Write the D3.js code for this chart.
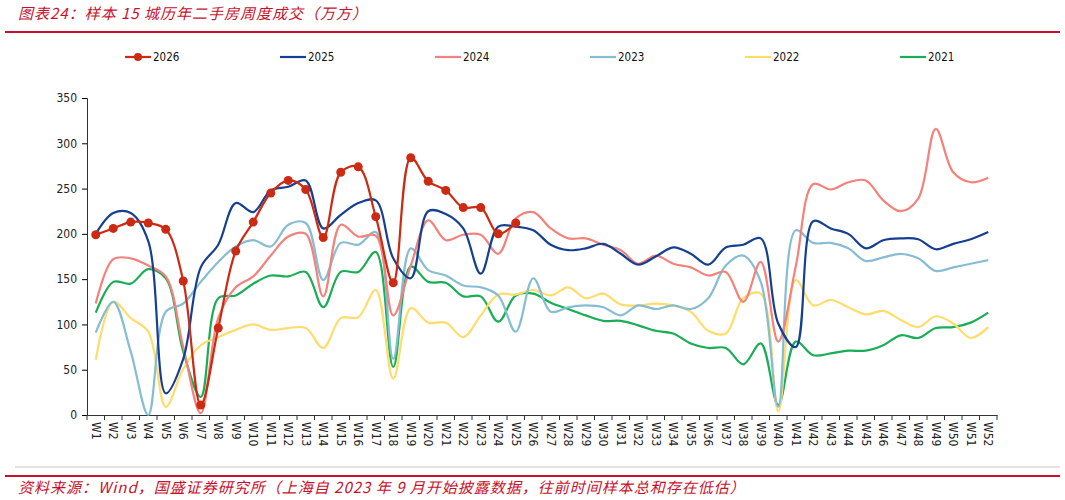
<!DOCTYPE html>
<html>
<head>
<meta charset="utf-8">
<script src="https://cdn.jsdelivr.net/npm/d3@7"></script>
<style>
  body { margin: 0; background: #fff; }
  svg { display: block; }
</style>
</head>
<body>
<div class="chart"></div>
<script>
const width = 1065;
const height = 500;

// weeks W1..W52
const weeks = d3.range(1, 53).map((i) => "W" + i);

const y2026 = [199, 206, 213, 212, 205, 148, 11, 96, 181, 213, 245, 259, 249, 196, 268, 274, 219, 146, 284, 258, 248, 229, 229, 200, 212];
const y2025 = [200, 223, 223, 192, 24, 62, 163, 188, 234, 224, 248, 252, 259, 206, 221, 234, 237, 173, 151, 225, 222, 206, 156, 208, 208,
  204, 188, 182, 184, 189, 178, 166, 175, 185, 178, 166, 185, 188, 195, 101, 75, 214, 206, 200, 184, 193, 195, 194, 183, 189, 194, 202];
const y2024 = [123, 172, 173, 165, 153, 75, 2, 107, 141, 153, 176, 197, 200, 131, 210, 197, 198, 110, 165, 215, 193, 199, 199, 178, 217,
  224, 206, 195, 195, 188, 182, 167, 176, 167, 163, 154, 158, 125, 169, 81, 164, 255, 249, 257, 259, 237, 225, 239, 316, 268, 257, 262];
const y2023 = [91, 125, 70, 0, 114, 123, 147, 169, 186, 193, 186, 210, 212, 149, 190, 188, 202, 62, 184, 160, 154, 143, 141, 132, 92,
  151, 114, 119, 121, 119, 110, 121, 117, 121, 117, 129, 165, 176, 147, 9, 204, 190, 190, 184, 170, 174, 178, 173, 159, 163, 167, 171];
const y2022 = [61, 125, 107, 92, 9, 51, 77, 86, 94, 100, 94, 96, 96, 74, 107, 108, 138, 40, 118, 102, 102, 86, 110, 133, 133,
  138, 132, 141, 129, 134, 122, 121, 123, 121, 114, 93, 90, 129, 134, 4, 149, 121, 127, 119, 111, 115, 105, 97, 109, 101, 85, 97];
const y2021 = [113, 147, 145, 161, 151, 70, 20, 129, 132, 145, 154, 153, 158, 119, 158, 158, 180, 53, 164, 147, 146, 131, 131, 103, 132,
  134, 124, 117, 110, 104, 104, 99, 93, 90, 79, 74, 74, 56, 79, 11, 81, 66, 68, 71, 71, 77, 88, 85, 96, 97, 102, 113];

const years = ["2026", "2025", "2024", "2023", "2022", "2021"];
const seriesValues = [y2026, y2025, y2024, y2023, y2022, y2021];
const colors = ["#cc2a12", "#153f8f", "#f4827c", "#86bdd3", "#ffdc6b", "#19ae55"];
const yTicks = [0, 50, 100, 150, 200, 250, 300, 350];

const titleText = "图表24：样本 15 城历年二手房周度成交（万方）";
const sourceText = "资料来源：Wind，国盛证券研究所（上海自 2023 年 9 月开始披露数据，往前时间样本总和存在低估）";
const red = "#c8102e";
const axisFont = "'DejaVu Sans Condensed', 'DejaVu Sans', sans-serif";

const svg = d3.select(".chart")
  .append("svg")
  .attr("width", width)
  .attr("height", height);

// title + rules
svg.append("text")
  .attr("x", 18).attr("y", 19)
  .attr("fill", red)
  .attr("font-family", "'Noto Sans CJK SC', sans-serif")
  .attr("font-size", 15)
  .attr("letter-spacing", 1)
  .attr("font-style", "italic")
  .text(titleText);

svg.append("line").attr("x1", 5).attr("x2", 1060).attr("y1", 32).attr("y2", 32)
  .attr("stroke", red).attr("stroke-width", 2);
svg.append("line").attr("x1", 15).attr("x2", 1060).attr("y1", 467).attr("y2", 467)
  .attr("stroke", "#c8c8c8").attr("stroke-width", 1);
svg.append("line").attr("x1", 5).attr("x2", 1060).attr("y1", 476).attr("y2", 476)
  .attr("stroke", red).attr("stroke-width", 2);

svg.append("text")
  .attr("x", 18).attr("y", 493)
  .attr("fill", red)
  .attr("font-family", "'Noto Sans CJK SC', sans-serif")
  .attr("font-size", 15)
  .attr("letter-spacing", 1)
  .attr("font-style", "italic")
  .text(sourceText);

// scales
const x = d3.scaleBand().domain(weeks).range([87, 997]);
const y = d3.scaleLinear().domain([0, 350]).range([415, 98]);
const cx = (i) => x(weeks[i]) + x.bandwidth() / 2;

// y axis
const yAxis = svg.append("g")
  .attr("transform", "translate(87,0)")
  .call(d3.axisLeft(y).tickValues(yTicks).tickSize(5).tickPadding(5).tickFormat(d3.format("d")));
yAxis.selectAll("text")
  .attr("font-family", axisFont)
  .attr("font-size", 12)
  .attr("fill", "#222");

// x axis
const xAxis = svg.append("g")
  .attr("transform", "translate(0,415)")
  .call(d3.axisBottom(x).tickSize(0).tickPadding(0));
xAxis.selectAll(".tick text")
  .attr("font-family", axisFont)
  .attr("font-size", 12)
  .attr("fill", "#222")
  .attr("text-anchor", "start")
  .attr("dy", "0.35em")
  .attr("transform", "translate(0,7) rotate(90)");
// band boundary ticks
xAxis.selectAll(".bt")
  .data(d3.range(0, 53))
  .enter()
  .append("line")
  .attr("class", "bt")
  .attr("x1", (d) => 87 + d * x.step())
  .attr("x2", (d) => 87 + d * x.step())
  .attr("y1", 0).attr("y2", 5)
  .attr("stroke", "#333");

svg.selectAll(".domain").attr("stroke", "#333");

// lines, drawn oldest first so 2026 sits on top
const line = d3.line()
  .x((d, i) => cx(i))
  .y((d) => y(d))
  .curve(d3.curveCatmullRom.alpha(0.5));

const order = [5, 4, 3, 2, 1, 0];
svg.append("g")
  .selectAll("path")
  .data(order)
  .enter()
  .append("path")
  .attr("d", (k) => line(seriesValues[k]))
  .attr("fill", "none")
  .attr("stroke", (k) => colors[k])
  .attr("stroke-width", 2.2);

svg.append("g")
  .selectAll("circle")
  .data(y2026)
  .enter()
  .append("circle")
  .attr("cx", (d, i) => cx(i))
  .attr("cy", (d) => y(d))
  .attr("r", 4.5)
  .attr("fill", colors[0]);

// legend
const legend = svg.append("g")
  .selectAll("g")
  .data(years)
  .enter()
  .append("g")
  .attr("transform", (d, i) => `translate(${125 + i * 155},57)`);

legend.append("line")
  .attr("x1", 0).attr("x2", 26)
  .attr("y1", 0).attr("y2", 0)
  .attr("stroke", (d, i) => colors[i])
  .attr("stroke-width", 2.2);

legend.filter((d, i) => i === 0)
  .append("circle")
  .attr("cx", 13).attr("cy", 0).attr("r", 4)
  .attr("fill", colors[0]);

legend.append("text")
  .attr("x", 28).attr("y", 4)
  .attr("font-family", axisFont)
  .attr("font-size", 11.5)
  .attr("fill", "#111")
  .text((d) => d);
</script>
</body>
</html>
